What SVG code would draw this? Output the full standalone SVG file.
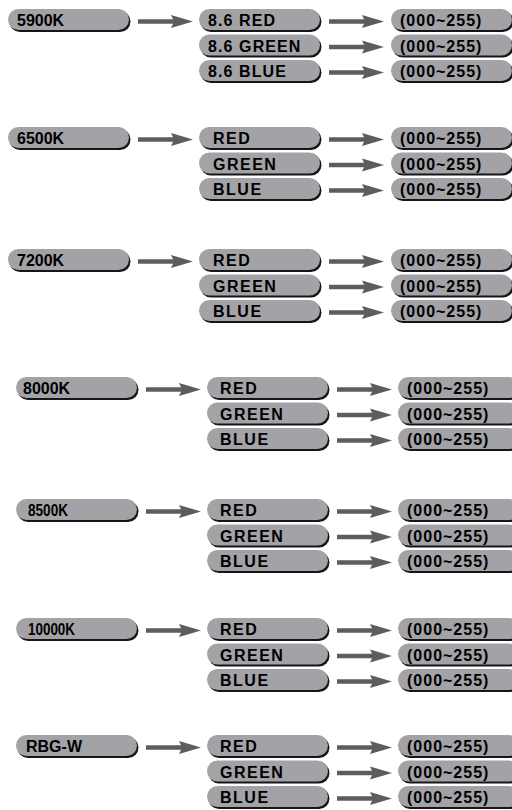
<svg xmlns="http://www.w3.org/2000/svg" xmlns:xlink="http://www.w3.org/1999/xlink" width="512" height="810" viewBox="0 0 512 810">
<style>
.sh{fill:#161616}
.body{fill:#a3a3a7}
.arr{fill:#5d5d5d}
text{font-family:"Liberation Sans",Arial,sans-serif;font-weight:bold;font-size:16px;fill:#000}
.sub{letter-spacing:1.5px}
.sub86{letter-spacing:1.1px}
.val{letter-spacing:1px}
</style>
<defs>
<g id="pill"><rect class="sh" x="1.5" y="2" width="121" height="21" rx="10.5"/><rect class="body" x="0" y="0" width="121" height="21" rx="10.5"/></g>
<path id="arrow" d="M0,-2.2 H35 L33,-6.5 L55,0 L33,6.5 L35,2.2 H0 Z"/>
</defs>
<rect width="512" height="810" fill="#fff"/>
<g id="connectors" class="arr">
<use href="#arrow" x="138" y="21.5"/><use href="#arrow" x="329" y="21.5"/><use href="#arrow" x="329" y="47"/><use href="#arrow" x="329" y="72.5"/>
<use href="#arrow" x="138" y="139.5"/><use href="#arrow" x="329" y="139.5"/><use href="#arrow" x="329" y="165"/><use href="#arrow" x="329" y="190.5"/>
<use href="#arrow" x="138" y="261.5"/><use href="#arrow" x="329" y="261.5"/><use href="#arrow" x="329" y="287"/><use href="#arrow" x="329" y="312.5"/>
<use href="#arrow" x="146" y="389.5"/><use href="#arrow" x="337" y="389.5"/><use href="#arrow" x="337" y="415"/><use href="#arrow" x="337" y="440.5"/>
<use href="#arrow" x="146" y="511.5"/><use href="#arrow" x="337" y="511.5"/><use href="#arrow" x="337" y="537"/><use href="#arrow" x="337" y="562.5"/>
<use href="#arrow" x="146" y="630.5"/><use href="#arrow" x="337" y="630.5"/><use href="#arrow" x="337" y="656"/><use href="#arrow" x="337" y="681.5"/>
<use href="#arrow" x="146" y="747.5"/><use href="#arrow" x="337" y="747.5"/><use href="#arrow" x="337" y="773"/><use href="#arrow" x="337" y="798.5"/>
</g>

<g id="block-5900K">
<g id="n5900K"><use href="#pill" x="8" y="9"/><text x="17" y="26">5900K</text></g>
<g id="n5900K-red"><use href="#pill" x="199" y="9"/><text class="sub86" x="208" y="26">8.6 RED</text></g>
<g id="n5900K-green"><use href="#pill" x="199" y="34.5"/><text class="sub86" x="208" y="51.5">8.6 GREEN</text></g>
<g id="n5900K-blue"><use href="#pill" x="199" y="60"/><text class="sub86" x="208" y="77">8.6 BLUE</text></g>
<g id="n5900K-v1"><use href="#pill" x="391" y="9"/><text class="val" x="400" y="26">(000~255)</text></g>
<g id="n5900K-v2"><use href="#pill" x="391" y="34.5"/><text class="val" x="400" y="51.5">(000~255)</text></g>
<g id="n5900K-v3"><use href="#pill" x="391" y="60"/><text class="val" x="400" y="77">(000~255)</text></g>
</g>

<g id="block-6500K">
<g id="n6500K"><use href="#pill" x="8" y="127"/><text x="17" y="144">6500K</text></g>
<g id="n6500K-red"><use href="#pill" x="199" y="127"/><text class="sub" x="213" y="144">RED</text></g>
<g id="n6500K-green"><use href="#pill" x="199" y="152.5"/><text class="sub" x="213" y="169.5">GREEN</text></g>
<g id="n6500K-blue"><use href="#pill" x="199" y="178"/><text class="sub" x="213" y="195">BLUE</text></g>
<g id="n6500K-v1"><use href="#pill" x="391" y="127"/><text class="val" x="400" y="144">(000~255)</text></g>
<g id="n6500K-v2"><use href="#pill" x="391" y="152.5"/><text class="val" x="400" y="169.5">(000~255)</text></g>
<g id="n6500K-v3"><use href="#pill" x="391" y="178"/><text class="val" x="400" y="195">(000~255)</text></g>
</g>

<g id="block-7200K">
<g id="n7200K"><use href="#pill" x="8" y="249"/><text x="17" y="266">7200K</text></g>
<g id="n7200K-red"><use href="#pill" x="199" y="249"/><text class="sub" x="213" y="266">RED</text></g>
<g id="n7200K-green"><use href="#pill" x="199" y="274.5"/><text class="sub" x="213" y="291.5">GREEN</text></g>
<g id="n7200K-blue"><use href="#pill" x="199" y="300"/><text class="sub" x="213" y="317">BLUE</text></g>
<g id="n7200K-v1"><use href="#pill" x="391" y="249"/><text class="val" x="400" y="266">(000~255)</text></g>
<g id="n7200K-v2"><use href="#pill" x="391" y="274.5"/><text class="val" x="400" y="291.5">(000~255)</text></g>
<g id="n7200K-v3"><use href="#pill" x="391" y="300"/><text class="val" x="400" y="317">(000~255)</text></g>
</g>

<g id="block-8000K">
<g id="n8000K"><use href="#pill" x="16" y="377"/><text x="23" y="394">8000K</text></g>
<g id="n8000K-red"><use href="#pill" x="207" y="377"/><text class="sub" x="220" y="394">RED</text></g>
<g id="n8000K-green"><use href="#pill" x="207" y="402.5"/><text class="sub" x="220" y="419.5">GREEN</text></g>
<g id="n8000K-blue"><use href="#pill" x="207" y="428"/><text class="sub" x="220" y="445">BLUE</text></g>
<g id="n8000K-v1"><use href="#pill" x="398" y="377"/><text class="val" x="407" y="394">(000~255)</text></g>
<g id="n8000K-v2"><use href="#pill" x="398" y="402.5"/><text class="val" x="407" y="419.5">(000~255)</text></g>
<g id="n8000K-v3"><use href="#pill" x="398" y="428"/><text class="val" x="407" y="445">(000~255)</text></g>
</g>

<g id="block-8500K">
<g id="n8500K"><use href="#pill" x="16" y="499"/><text x="28" y="516" textLength="40" lengthAdjust="spacingAndGlyphs">8500K</text></g>
<g id="n8500K-red"><use href="#pill" x="207" y="499"/><text class="sub" x="220" y="516">RED</text></g>
<g id="n8500K-green"><use href="#pill" x="207" y="524.5"/><text class="sub" x="220" y="541.5">GREEN</text></g>
<g id="n8500K-blue"><use href="#pill" x="207" y="550"/><text class="sub" x="220" y="567">BLUE</text></g>
<g id="n8500K-v1"><use href="#pill" x="398" y="499"/><text class="val" x="407" y="516">(000~255)</text></g>
<g id="n8500K-v2"><use href="#pill" x="398" y="524.5"/><text class="val" x="407" y="541.5">(000~255)</text></g>
<g id="n8500K-v3"><use href="#pill" x="398" y="550"/><text class="val" x="407" y="567">(000~255)</text></g>
</g>

<g id="block-10000K">
<g id="n10000K"><use href="#pill" x="16" y="618"/><text x="28" y="635" textLength="47" lengthAdjust="spacingAndGlyphs">10000K</text></g>
<g id="n10000K-red"><use href="#pill" x="207" y="618"/><text class="sub" x="220" y="635">RED</text></g>
<g id="n10000K-green"><use href="#pill" x="207" y="643.5"/><text class="sub" x="220" y="660.5">GREEN</text></g>
<g id="n10000K-blue"><use href="#pill" x="207" y="669"/><text class="sub" x="220" y="686">BLUE</text></g>
<g id="n10000K-v1"><use href="#pill" x="398" y="618"/><text class="val" x="407" y="635">(000~255)</text></g>
<g id="n10000K-v2"><use href="#pill" x="398" y="643.5"/><text class="val" x="407" y="660.5">(000~255)</text></g>
<g id="n10000K-v3"><use href="#pill" x="398" y="669"/><text class="val" x="407" y="686">(000~255)</text></g>
</g>

<g id="block-RBGW">
<g id="nRBGW"><use href="#pill" x="16" y="735"/><text x="26" y="752">RBG-W</text></g>
<g id="nRBGW-red"><use href="#pill" x="207" y="735"/><text class="sub" x="220" y="752">RED</text></g>
<g id="nRBGW-green"><use href="#pill" x="207" y="760.5"/><text class="sub" x="220" y="777.5">GREEN</text></g>
<g id="nRBGW-blue"><use href="#pill" x="207" y="786"/><text class="sub" x="220" y="803">BLUE</text></g>
<g id="nRBGW-v1"><use href="#pill" x="398" y="735"/><text class="val" x="407" y="752">(000~255)</text></g>
<g id="nRBGW-v2"><use href="#pill" x="398" y="760.5"/><text class="val" x="407" y="777.5">(000~255)</text></g>
<g id="nRBGW-v3"><use href="#pill" x="398" y="786"/><text class="val" x="407" y="803">(000~255)</text></g>
</g>
</svg>
